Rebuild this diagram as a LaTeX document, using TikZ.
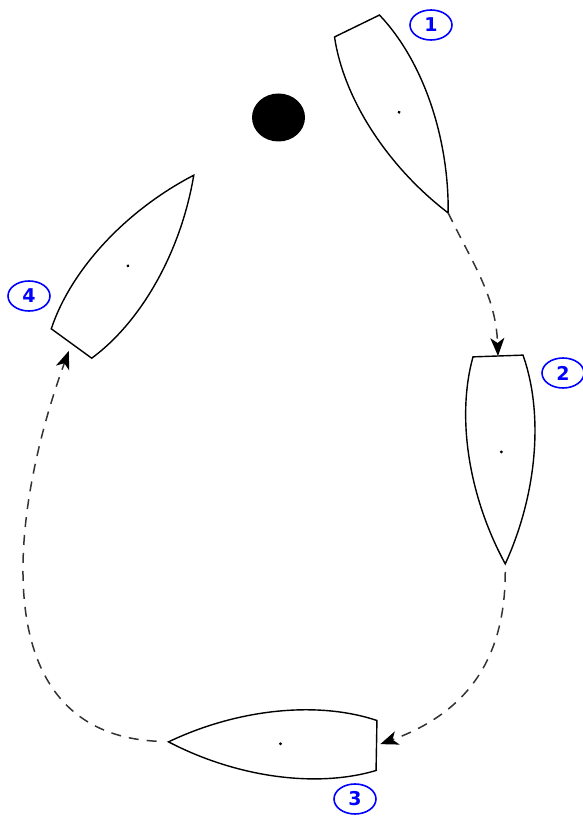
\documentclass[tikz,border=0pt]{standalone}
\usepackage{fontspec}
\setsansfont{DejaVu Sans}
\usetikzlibrary{arrows.meta,shapes.geometric}

\begin{document}
\begin{tikzpicture}[
    x=0.5pt, y=0.5pt,
    hull/.style={draw=black, line width=0.7pt, fill=white},
    route/.style={-{Stealth[length=9pt,width=7pt,inset=2.5pt,black]}, line width=0.75pt, black!80, dash pattern=on 5pt off 4pt},
    num/.style={ellipse, draw=blue, line width=0.8pt, text=blue, inner sep=0pt,
        minimum width=21pt, minimum height=15pt, font=\sffamily\bfseries\fontsize{9.5}{10}\selectfont},
    buoy/.style={ellipse, fill=black, inner sep=0pt, minimum width=26.5pt, minimum height=24pt},
    boat/.pic={
        \draw[hull] (0,25) .. controls (60,44) and (140,34) .. (208,0)
            .. controls (140,-34) and (60,-44) .. (0,-25) -- cycle;
        \fill (96,0) circle (0.8pt);
        \coordinate (-stern) at (0,0);
        \coordinate (-bow) at (208,0);
    }
]
\useasboundingbox (0,0) rectangle (583,816);

\node[buoy] (mark) at (278.5,698.5) {};

\pic[rotate=-64] (b1) at (357,790) {boat};
\pic[rotate=-88] (b2) at (498,460) {boat};
\pic[rotate=179] (b3) at (376.5,70.5) {boat};
\pic[rotate=54] (b4) at (71.5,472.5) {boat};

\node[num] (n1) at (431,791) {1};
\node[num] (n2) at (563,443) {2};
\node[num] (n3) at (355,17) {3};
\node[num] (n4) at (29,520) {4};

\draw[route] (b1-bow) to[out=-64, in=92] (b2-stern);
\draw[route, shorten <=4pt, shorten >=2pt] (b2-bow) to[out=-90, in=20, looseness=1.1] (b3-stern);
\draw[route, shorten <=6pt, shorten >=4pt] (b3-bow) to[out=177, in=-110, looseness=1.15] (b4-stern);
\end{tikzpicture}
\end{document}
